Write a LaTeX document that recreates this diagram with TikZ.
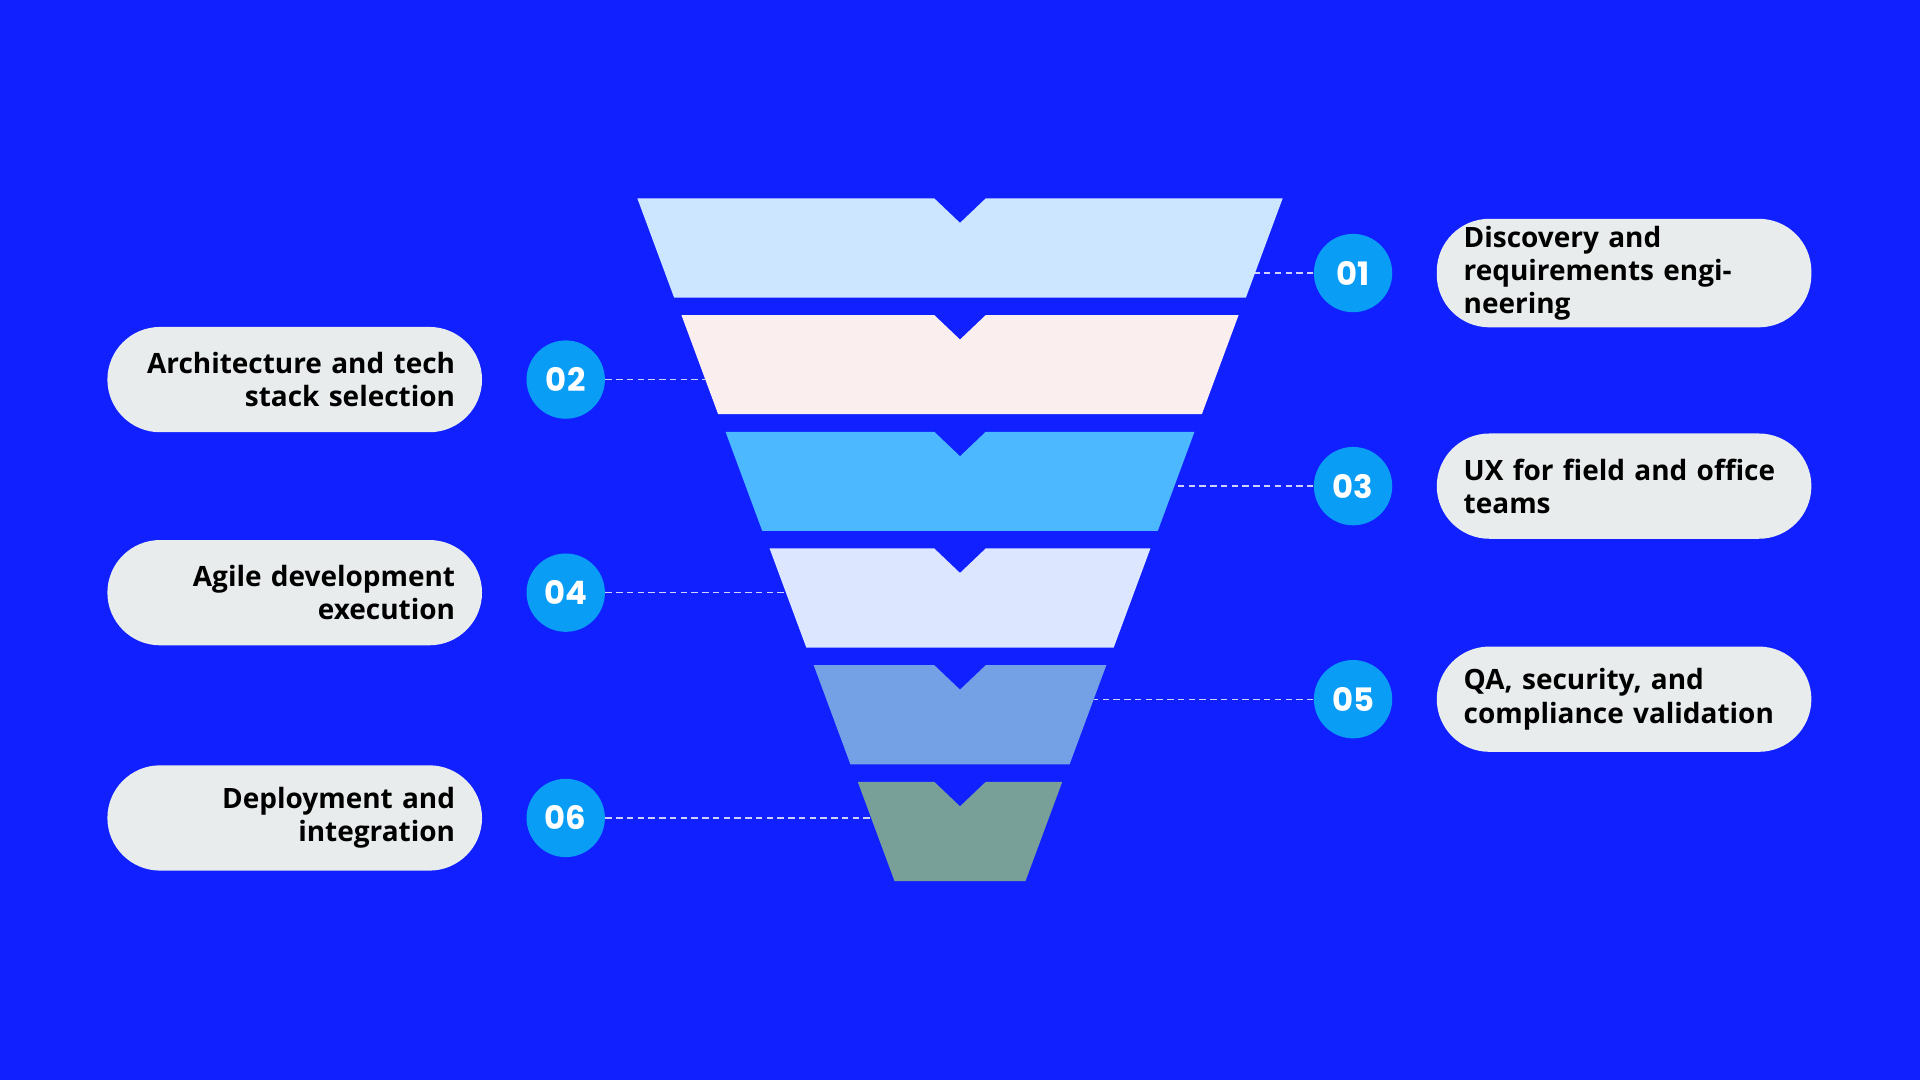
\documentclass[tikz,border=0pt]{standalone}
\usepackage{fontspec}
\setmainfont{Open Sans}
\newfontfamily\numfont{Poppins}
\usetikzlibrary{positioning, calc}
\definecolor{BGBLUE}{HTML}{1020FF}
\definecolor{DOTBLUE}{HTML}{0A9DF5}
\definecolor{PILLGRAY}{HTML}{E8ECEC}
\definecolor{LAYA}{HTML}{CCE6FF}
\definecolor{LAYB}{HTML}{FAEEEE}
\definecolor{LAYC}{HTML}{4BB8FF}
\definecolor{LAYD}{HTML}{DCE6FF}
\definecolor{LAYE}{HTML}{74A0E6}
\definecolor{LAYF}{HTML}{78A098}

\begin{document}
\begin{tikzpicture}[x=0.02cm, y=-0.02cm,
        num/.style={circle, fill=DOTBLUE, minimum size=1.28cm, inner sep=0pt,
                     text=white, font=\numfont\fontsize{15}{15}\selectfont\bfseries},
        pill/.style={fill=PILLGRAY, rounded corners=0.86cm, minimum height=1.72cm,
                     text width=5.24cm, inner xsep=0.44cm,
                     font=\fontsize{13}{15.4}\selectfont\bfseries},
        lead/.style={draw=white!80!BGBLUE, densely dashed, line width=0.6pt}
      ]
        \fill[BGBLUE] (0,0) rectangle (1568,882);
        % markers and labels
        \node[num] (n1) at (1105,223) {01};
        \node[num] (n2) at (462,310)  {02};
        \node[num] (n3) at (1105,397) {03};
        \node[num] (n4) at (462,484)  {04};
        \node[num] (n5) at (1105,571) {05};
        \node[num] (n6) at (462,668)  {06};
        \node[pill, align=left,  anchor=west] (p1) at (1173,223) {Discovery and\\requirements engineering};
        \node[pill, align=right, anchor=east] (p2) at (394,310)  {Architecture and tech\\stack selection};
        \node[pill, align=left,  anchor=west] (p3) at (1173,397) {UX for field and office\\teams};
        \node[pill, align=right, anchor=east] (p4) at (394,484)  {Agile development\\execution};
        \node[pill, align=left,  anchor=west] (p5) at (1173,571) {QA, security, and\\compliance validation};
        \node[pill, align=right, anchor=east] (p6) at (394,668)  {Deployment and\\integration};
        % funnel
        \foreach \i/\col/\cy in {1/LAYA/223, 2/LAYB/310, 3/LAYC/397, 4/LAYD/484, 5/LAYE/571, 6/LAYF/668}{
          \pgfmathsetmacro\ty{162+95.3*(\i-1)}
          \pgfmathsetmacro\by{\ty+81}
          \pgfmathsetmacro\w{263.5-36*(\i-1)}
          \pgfmathsetmacro\s{isodd(\i) ? 1 : -1}
          \coordinate (e\i) at ({784+\s*(\w-30*(\cy-\ty)/81)},\cy);
          \draw[lead] (n\i) -- (e\i);
          \fill[\col] (784-\w,\ty) -- (763,\ty) -- (784,\ty+20) -- (805,\ty)
            -- (784+\w,\ty) -- (784+\w-30,\by) -- (784-\w+30,\by) -- cycle;
        }
      \end{tikzpicture}
\end{document}
